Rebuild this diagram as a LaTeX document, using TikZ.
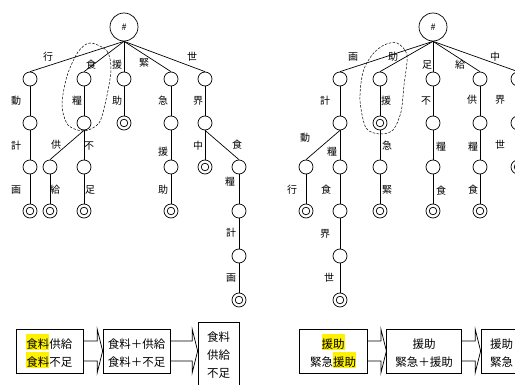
\documentclass[tikz,border=0pt]{standalone}
\usepackage{fontspec}
\setmainfont{Noto Sans CJK JP}
\usepackage{xcolor}
\usetikzlibrary{calc}
\newcommand\lnstrut{\rule[-1.5pt]{0pt}{16.4pt}}
\newcommand\hilite[1]{{\fboxsep=0pt\colorbox{yellow}{\lnstrut#1}}}

\begin{document}
\begin{tikzpicture}[x=1pt, y=-1pt, line width=0.7pt,
  nd/.style={circle, draw, minimum size=14pt, inner sep=0pt},
  fin/.style={nd, path picture={\draw (path picture bounding box.center) circle (3.8pt);}},
  hash/.style={circle, draw, minimum size=28pt, inner sep=0pt, font=\fontsize{9}{9}\selectfont},
  lbl/.style={inner sep=0pt, font=\fontsize{10}{10}\selectfont},
  box/.style={draw, inner sep=0pt, align=center, font=\fontsize{11.5}{18}\selectfont},
  grp/.style={line width=0.5pt, dash pattern=on 2.5pt off 1.5pt}]
\useasboundingbox (0,0) rectangle (515,385);
\clip (0,0) rectangle (515,385);
\def\ya{79} \def\yb{123} \def\yc{167} \def\yd{211} \def\ye{256} \def\yf{300}
% left trie
\node[hash] (L) at (124,27) {\#};
\foreach \n/\x/\y/\s in {la1/30/\ya/nd, la2/30/\yb/nd, la3/30/\yc/nd, la4/30/\yd/fin,
  lb1/84/\ya/nd, lb2/84/\yb/nd, lb3/50/\yc/nd, lb4/50/\yd/fin, lb5/84/\yc/nd, lb6/84/\yd/fin,
  lc1/124/\ya/nd, lc2/124/\yb/fin,
  ld1/171/\ya/nd, ld2/171/\yb/nd, ld3/171/\yc/nd, ld4/171/\yd/fin,
  le1/205/\ya/nd, le2/205/\yb/nd, le3/205/\yc/fin, le4/239/\yc/nd, le5/239/\yd/nd, le6/239/\ye/nd, le7/239/\yf/fin}
  \node[\s] (\n) at (\x,\y) {};
\foreach \p/\c in {L/la1, la1/la2, la2/la3, la3/la4, L/lb1, lb1/lb2, lb2/lb3, lb3/lb4, lb2/lb5, lb5/lb6,
  L/lc1, lc1/lc2, L/ld1, ld1/ld2, ld2/ld3, ld3/ld4, L/le1, le1/le2, le2/le3, le2/le4, le4/le5, le5/le6, le6/le7}
  \draw (\p.south) -- (\c.north);
\foreach \x/\y/\t [count=\i] in {48/57/行, 91/65/食, 117/65/援, 144/63/緊, 192/57/世,
  16/101/動, 16/146/計, 16/190/画, 77/101/糧, 56/145/供, 55/190/給, 89/146/不, 90/190/足,
  117/101/助, 163/101/急, 163/152/援, 163/190/助, 198/101/界, 198/146/中, 237/145/食,
  230/182/糧, 231/233/計, 231/278/画}
  \node[lbl] (ll\i) at (\x,\y) {\t};
\draw[grp] plot[smooth cycle] coordinates {(90,43) (107,51) (111,70) (106,100) (99,123) (84,131) (68,125) (62,105) (67,76) (78,52)};
% right trie
\node[hash] (R) at (433,27) {\#};
\foreach \n/\x/\y/\s in {ra1/340/\ya/nd, ra2/340/\yb/nd, ra3/306/\yc/nd, ra4/306/\yd/fin,
  ra5/340/\yc/nd, ra6/340/\yd/nd, ra7/340/\ye/nd, ra8/340/\yf/fin,
  rb1/380/\ya/nd, rb2/380/\yb/fin, rb3/380/\yc/nd, rb4/380/\yd/fin,
  rc1/433/\ya/nd, rc2/433/\yb/nd, rc3/433/\yc/nd, rc4/433/\yd/fin,
  rd1/480/\ya/nd, rd2/480/\yb/nd, rd3/480/\yc/nd, rd4/480/\yd/fin,
  re1/518/\ya/nd, re2/518/\yb/nd, re3/518/\yc/fin}
  \node[\s] (\n) at (\x,\y) {};
\foreach \p/\c in {R/ra1, ra1/ra2, ra2/ra3, ra3/ra4, ra2/ra5, ra5/ra6, ra6/ra7, ra7/ra8,
  R/rb1, rb1/rb2, rb2/rb3, rb3/rb4, R/rc1, rc1/rc2, rc2/rc3, rc3/rc4,
  R/rd1, rd1/rd2, rd2/rd3, rd3/rd4, R/re1, re1/re2, re2/re3}
  \draw (\p.south) -- (\c.north);
\foreach \x/\y/\t [count=\i] in {353/57/画, 393/57/助, 427/65/足, 460/65/給, 495/57/中,
  325/101/計, 305/138/動, 332/152/糧, 292/190/行, 326/190/食, 325/234/界, 329/278/世,
  386/101/援, 387/146/急, 387/190/緊, 426/101/不, 441/147/糧, 441/191/食,
  472/100/供, 473/147/糧, 473/190/食, 500/100/界, 500/145/世}
  \node[lbl] (rl\i) at (\x,\y) {\t};
\draw[grp] plot[smooth cycle] coordinates {(397,43) (407,55) (404,85) (401,112) (393,130) (380,134) (366,128) (360,100) (363,72) (372,55) (384,45)};
% merge steps
\node[box, minimum width=67pt, minimum height=44pt] (f1) at (49.5,351) {\hilite{食料}供給\\\hilite{食料}不足};
\node[box, minimum width=67pt, minimum height=44pt] (f2) at (136.5,351) {\lnstrut 食料＋供給\\\lnstrut 食料＋不足};
\node[box, minimum width=41pt, inner ysep=4pt, anchor=north] (f3) at (218.5,322) {\lnstrut 食料\\\lnstrut 供給\\\lnstrut 不足\rule[-14pt]{0pt}{0pt}};
\node[box, minimum width=68pt, minimum height=44pt] (g1) at (333,351) {\hilite{援助}\\\lnstrut 緊急\hilite{援助}};
\node[box, minimum width=74.5pt, minimum height=44pt] (g2) at (424,351) {\lnstrut 援助\\\lnstrut 緊急＋援助};
\node[box, minimum width=41pt, minimum height=44pt] (g3) at (501.5,351) {\lnstrut 援助\\\lnstrut 緊急};
\foreach \s/\t in {f1/f2, f2/f3, g1/g2, g2/g3}
  \draw (\s.east) ++(0,-10) -| ($(\t.west |- \s.east)+(-5.5,-22)$) -- (\t.west |- \s.east)
    -- ++(-5.5,22) |- ($(\s.east)+(0,10)$);
\end{tikzpicture}
\end{document}
